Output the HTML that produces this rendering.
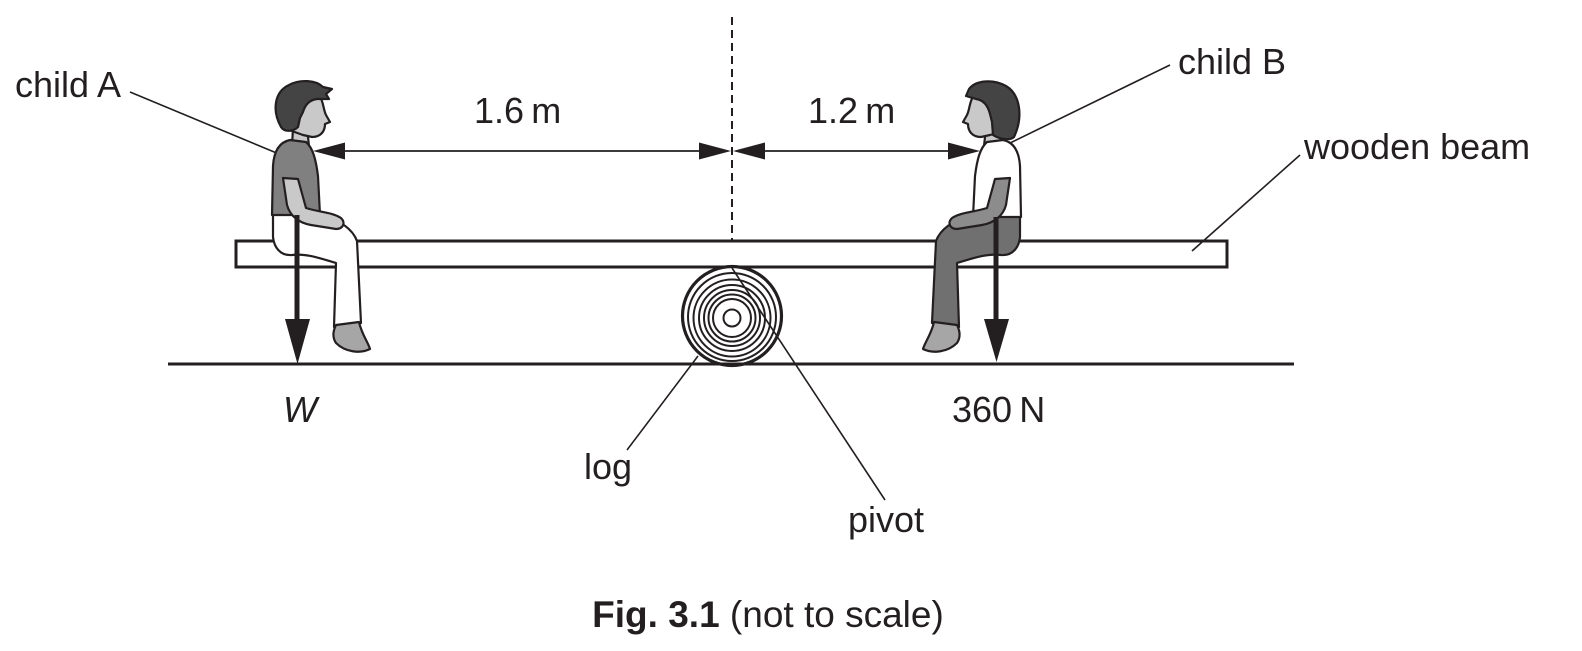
<!DOCTYPE html>
<html><head><meta charset="utf-8"><style>
html,body{margin:0;padding:0;background:#fff;}
svg{display:block;}
text{font-family:"Liberation Sans",Arial,sans-serif;fill:#231f20;}
</style></head><body>
<svg width="1582" height="651" viewBox="0 0 1582 651" xmlns="http://www.w3.org/2000/svg">

<!-- dashed pivot line -->
<line x1="732" y1="17" x2="732" y2="241" stroke="#231f20" stroke-width="2" stroke-dasharray="8,5"/>

<!-- beam -->
<rect x="236" y="241" width="991" height="26" fill="#fff" stroke="#231f20" stroke-width="3"/>

<!-- log -->
<g fill="none" stroke="#231f20">
<circle cx="732" cy="316" r="49.5" stroke-width="3.2" fill="#fff"/>
<circle cx="732" cy="317" r="44" stroke-width="2"/>
<circle cx="732" cy="318" r="38.5" stroke-width="2"/>
<circle cx="732" cy="318" r="33" stroke-width="2"/>
<circle cx="732" cy="318" r="28" stroke-width="2"/>
<circle cx="732" cy="318" r="23.5" stroke-width="2"/>
<circle cx="732" cy="318" r="19" stroke-width="2"/>
<circle cx="732" cy="318" r="8.5" stroke-width="2"/>
</g>

<!-- leaders -->
<g stroke="#231f20" stroke-width="1.6" fill="none">
<line x1="130" y1="92" x2="279" y2="154"/>
<line x1="1170" y1="65" x2="1008" y2="144"/>
<line x1="1300" y1="155" x2="1192" y2="251"/>
<line x1="698" y1="356" x2="627" y2="450"/>
<line x1="732" y1="268" x2="885" y2="500"/>
</g>

<!-- child A -->
<g stroke="#231f20" stroke-width="2.2" stroke-linejoin="round">
  <path d="M273,214 L320,214 C336,219 352,227 357,241 L361,323 L334,327 L336,263 C322,259 306,253 292,255 C280,256 274,247 273,237 Z" fill="#fff"/>
  <path d="M336,325 L359,322 C362,335 368,342 370,349 C360,354 345,352 336,343 C332,337 333,331 336,325 Z" fill="#a6a6a6"/>
  <path d="M293,128 L307,128 L309,146 L292,146 Z" fill="#c9c9c9"/>
  <path d="M290,140 C280,142 274,150 273,166 L272,215 L320,215 L318,176 C316,160 313,148 306,142 Z" fill="#808080"/>
  <path d="M283,178 L298,179 L306,208 C318,212 332,212 341,218 C346,223 343,229 336,229 L311,225 C299,223 290,216 287,205 Z" fill="#c9c9c9"/>
  <path d="M289,130 C283,118 283,103 295,97 L319,95 C324,102 323,109 326,115 L330,122 L325,124 C325,131 321,137 312,137 L303,135 Z" fill="#c9c9c9"/>
  <path d="M281,127 C272,111 274,92 289,85 C300,79 316,80 323,87 L332,89 L326,94 L329,99 L317,99 C309,100 305,105 303,112 L300,118 L298,127 C294,131 285,133 281,127 Z" fill="#444"/>
</g>

<!-- child B -->
<g stroke="#231f20" stroke-width="2.2" stroke-linejoin="round" transform="translate(1293,0) scale(-1,1)">
  <path d="M273,214 L320,214 C336,219 352,227 357,241 L361,323 L334,327 L336,263 C322,259 306,253 292,255 C280,256 274,247 273,237 Z" fill="#707070"/>
  <path d="M336,325 L359,322 C362,335 368,342 370,349 C360,354 345,352 336,343 C332,337 333,331 336,325 Z" fill="#a6a6a6"/>
  <path d="M293,128 L307,128 L309,146 L292,146 Z" fill="#c9c9c9"/>
  <path d="M290,140 C280,142 274,150 273,166 L272,217 L320,217 L318,176 C316,160 313,148 306,142 Z" fill="#fff"/>
  <path d="M283,178 L298,179 L306,208 C318,212 332,212 341,218 C346,223 343,229 336,229 L311,225 C299,223 290,216 287,205 Z" fill="#8c8c8c"/>
  <path d="M289,131 C283,118 283,103 295,97 L319,95 C324,102 323,109 326,115 L330,122 L325,124 C325,131 321,137 312,137 L303,135 Z" fill="#c9c9c9"/>
  <path d="M279,137 C270,118 272,95 287,86 C300,79 317,80 324,89 L327,96 L317,99 C309,100 305,106 303,114 L301,122 L300,135 C294,139 283,141 279,137 Z" fill="#444"/>
</g>

<!-- force arrows -->
<g fill="#231f20" stroke="none">
<rect x="294.5" y="215" width="5" height="106"/>
<polygon points="285,319 310,319 297.5,364"/>
<rect x="993.5" y="217" width="5" height="104"/>
<polygon points="984,319 1009,319 996.5,362"/>
</g>

<!-- ground -->
<line x1="168" y1="364" x2="1294" y2="364" stroke="#231f20" stroke-width="3"/>

<!-- distance arrows -->
<g stroke="#231f20" stroke-width="1.8">
<line x1="340" y1="151" x2="702" y2="151"/>
<line x1="762" y1="151" x2="952" y2="151"/>
</g>
<g fill="#231f20">
<polygon points="313,151 345,142.5 345,159.5"/>
<polygon points="731,151 699,142.5 699,159.5"/>
<polygon points="733,151 765,142.5 765,159.5"/>
<polygon points="980,151 948,142.5 948,159.5"/>
</g>

<!-- labels -->
<g font-size="36">
<text x="15" y="97">child A</text>
<text x="474" y="123">1.6&#8201;m</text>
<text x="808" y="123">1.2&#8201;m</text>
<text x="1178" y="74">child B</text>
<text x="1304" y="159">wooden beam</text>
<text x="283" y="422" font-style="italic">W</text>
<text x="952" y="422">360&#8201;N</text>
<text x="584" y="479">log</text>
<text x="848" y="532">pivot</text>
</g>
<text x="768" y="627" font-size="37" text-anchor="middle"><tspan font-weight="bold">Fig. 3.1</tspan> (not to scale)</text>
</svg>
</body></html>
